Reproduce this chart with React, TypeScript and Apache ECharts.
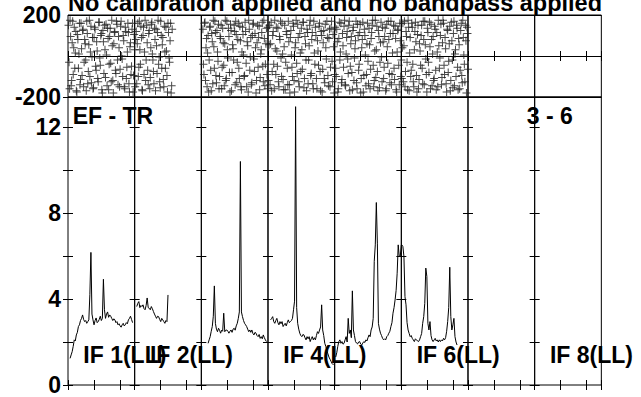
import React, { useEffect, useRef } from "react";
import * as echarts from "echarts";

// ---- data ----
const titleText = "No calibration applied and no bandpass applied";
const baselineLabel = "EF - TR";
const timeLabel = "3 - 6";
const ifLabels = ["IF 1(LL)", "IF 2(LL)", "IF 3(LL)", "IF 4(LL)", "IF 5(LL)", "IF 6(LL)", "IF 7(LL)", "IF 8(LL)"];
const shownIfLabels = [0, 1, 3, 5, 7];
const phaseTicks = [-200, 200];
const ampTickLabels = [0, 4, 8, 12];

// amplitude spectra (Jy), one value every 2 channels from the start channel
const ampStart = [4, 4, 13, 5, 2, 1];
const ampIF1 = [1.24, 1.4, 1.55, 1.8, 2.1, 2.05, 2.33, 2.45, 2.72, 2.8, 3.0, 3.1, 3.26, 3.05, 2.95, 3.0, 2.87, 2.95, 3.03, 4.2, 6.17, 3.3, 3.03, 2.8, 3.0, 3.12, 2.9, 2.95, 3.05, 3.2, 3.0, 3.1, 4.92, 3.5, 3.1, 3.3, 3.4, 3.15, 3.26, 3.2, 3.1, 3.0, 3.08, 3.03, 2.9, 2.95, 2.8, 2.85, 2.75, 2.69, 2.8, 2.87, 2.75, 2.8, 2.9, 2.85, 3.03, 3.1, 3.2, 3.05, 2.9];
const ampIF2 = [3.65, 3.8, 3.88, 3.6, 3.7, 3.65, 3.73, 3.55, 3.5, 3.7, 4.05, 3.6, 3.57, 3.5, 3.65, 3.55, 3.42, 3.3, 3.2, 3.1, 3.2, 3.18, 3.05, 2.95, 3.1, 3.03, 2.95, 2.87, 3.0, 2.95, 4.19];
const ampIF3 = [1.94, 2.1, 2.25, 2.5, 2.72, 3.2, 4.61, 2.87, 2.6, 2.48, 2.64, 2.55, 2.41, 2.55, 2.5, 3.34, 2.48, 2.55, 2.56, 2.5, 2.41, 2.5, 2.56, 2.45, 2.6, 2.64, 2.55, 2.75, 2.87, 3.1, 3.4, 10.4, 3.4, 3.18, 3.0, 2.87, 2.8, 2.72, 2.6, 2.48, 2.56, 2.45, 2.56, 2.4, 2.33, 2.45, 2.41, 2.3, 2.25, 2.35, 2.17, 2.25, 2.15, 2.33, 2.2, 2.1, 2.02];
const ampIF4 = [3.03, 3.1, 3.18, 2.95, 2.87, 3.0, 3.1, 2.9, 2.8, 2.95, 2.85, 2.95, 2.72, 2.8, 2.87, 2.75, 2.9, 3.03, 2.9, 2.95, 3.0, 3.1, 3.5, 3.9, 12.95, 3.6, 2.87, 2.6, 2.41, 2.3, 2.25, 2.35, 2.33, 2.2, 2.1, 2.25, 2.15, 2.25, 2.02, 2.15, 2.25, 2.1, 2.2, 2.1, 2.3, 2.48, 2.4, 2.56, 2.7, 3.73, 2.56, 2.3, 1.94, 1.8, 1.6, 1.45, 1.3, 1.2, 1.1, 1.0, 0.95, 1.0];
const ampIF5 = [1.3, 1.5, 1.8, 2.02, 2.1, 1.94, 2.02, 1.9, 1.94, 2.1, 2.25, 2.0, 3.1, 2.4, 2.56, 2.2, 4.38, 2.56, 2.3, 2.02, 1.95, 1.91, 2.0, 2.02, 1.9, 1.86, 1.95, 2.02, 1.98, 2.1, 2.05, 2.2, 2.33, 2.25, 2.56, 2.7, 3.1, 5.75, 6.52, 8.49, 6.6, 2.87, 2.6, 2.41, 2.3, 2.17, 2.1, 2.15, 2.1, 2.25, 2.3, 2.41, 2.5, 2.72, 2.9, 3.34, 3.6, 3.96, 4.4, 5.2, 6.52, 5.98, 6.0, 6.52];
const ampIF6 = [6.52, 6.44, 5.98, 4.11, 3.73, 2.9, 2.56, 2.4, 2.25, 2.3, 2.17, 2.1, 2.02, 2.15, 2.1, 2.05, 2.02, 2.1, 2.25, 2.4, 2.87, 3.18, 3.8, 5.44, 5.05, 2.87, 2.56, 2.95, 2.3, 2.1, 2.02, 2.1, 2.17, 2.05, 2.1, 2.0, 2.1, 2.02, 2.1, 2.05, 2.17, 2.1, 2.2, 2.5, 2.95, 3.6, 5.48, 3.18, 2.56, 2.8, 3.1, 2.25, 2.0, 1.86];
const ampSpectra = [ampIF1, ampIF2, ampIF3, ampIF4, ampIF5, ampIF6];

// phases (degrees): odd-channel list (A) and even-channel list (B) per IF
const phaseStartA = [1, 1, 3, 1, 1, 1];
const phaseStartB = [2, 2, 4, 2, 2, 2];
const phIF1a = [150, -160, 95, -120, 170, 40, -60, 120, -175, 80, 10, -140, 160, -95, 130, -30, 60, -170, 110, -75, 175, 20, -130, 90, -155, 140, -50, 70, -110, 165, -10, 100, -165, 125, -85, 30, 155, -145, 85, -40, 135, -125, 50, -180, 115, -70, 170, -20, 95, -150, 145, 0, -100, 75, -160, 120, -55, 160, -135, 45, -90, 130, -175, 105];
const phIF1b = [-30, 175, -145, 65, -90, 140, 15, -170, 105, -60, 160, -115, 35, 125, -150, 80, -20, 170, -135, 55, -100, 145, -5, -160, 90, 130, -70, 25, -125, 165, -45, 110, -180, 70, 150, -105, 5, 135, -165, 95, -35, 175, -120, 60, 120, -85, 155, -140, 40, -65, 170, -15, 100, -150, 140, -110, 20, 115, -175, 65, -50, 160, -95, 30];
const phIF2a = [-150, 120, 60, -100, 170, -40, 90, -170, 140, 20, -120, 150, -70, 110, -160, 40, 165, -20, -135, 80, 130, -85, 175, -5, -155, 100, 55, -115, 145, -60, 25, -175, 115, -30, 160, -145];
const phIF2b = [80, -135, 160, -55, 30, 145, -165, 100, -90, 175, -20, 65, -140, 125, -105, 155, 10, -75, 135, -170, 50, 115, -40, -125, 170, -60, 90, -150, 20, 140, -95, 160, -10, 75, -180, 130];
const phIF3a = [130, -90, 165, 40, -150, 100, -20, 145, -170, 70, 175, -60, 115, -130, 20, 155, -100, 85, -160, 135, -45, 60, -120, 170, -10, 95, -175, 125, -80, 35, 150, -140, 105, -30, 160, -110, 75, -165, 140, 5, -95, 120, -150, 50, 175, -70, 90, -130, 155, -15, 110, -180, 65, -55, 145, -105, 30, 165, -125, 85, -40, 135, -160];
const phIF3b = [-40, 160, -120, 85, 15, -175, 140, -70, 110, -135, 45, 170, -95, 125, -25, -160, 95, 150, -55, 65, -145, 175, -110, 30, 135, -80, 155, -170, 55, -20, 120, 170, -130, 80, -60, 145, -150, 20, 105, -100, 165, -35, 70, -175, 130, -5, -140, 100, 160, -75, 40, -120, 150, 90, -165, 10, 115, -50, 175, -145, 60, -90, 140];
const phIF4a = [-120, 150, 60, -170, 100, -40, 175, -90, 25, 135, -150, 80, -10, 160, -115, 45, -165, 120, -60, 170, -140, 90, 5, -100, 145, -175, 65, -35, 155, -125, 110, -75, 30, 165, -155, 95, -20, 130, -135, 50, 175, -85, 115, -160, 15, 140, -110, 75, -45, 160, -170, 100, -65, 125, -130, 40, 170, -95, 85, -150, 135, -25, 105, -180];
const phIF4b = [55, -140, 165, -75, 120, -160, 35, 140, -50, -125, 95, 170, -100, 10, -165, 150, -30, 105, -140, 70, -180, 125, -55, 160, -120, 40, 175, -85, 90, -150, 15, 135, -65, 165, -110, 60, -170, 115, -20, 150, -95, 80, -135, 170, -40, 100, -160, 25, 145, -75, 120, -175, 65, -110, 155, -15, 90, -145, 130, -55, 170, -125, 45, -90];
const phIF5a = [140, -100, 70, -160, 165, 20, -130, 110, -55, 175, -145, 90, -15, 150, -170, 60, -80, 125, -120, 35, 170, -160, 100, -40, 155, -110, 80, -175, 130, 5, -90, 160, -135, 55, -65, 115, 175, -150, 25, -105, 145, -170, 95, -30, 165, -125, 70, -55, 135, -160, 45, 170, -85, 110, -140, 15, 150, -115, 85, -175, 125, -45, 160, -100];
const phIF5b = [-60, 130, -175, 85, -20, 160, -115, 50, 145, -140, 10, 120, -85, 170, -50, 95, -165, 140, -10, 75, -130, 155, -70, 115, -180, 40, 165, -95, 100, -145, 60, -25, 135, -160, 85, 150, -45, -120, 175, 30, -75, 125, -155, 65, -5, 140, -110, 95, -170, 155, -35, 80, -130, 170, -90, 110, -60, 145, -165, 20, 130, -140, 75, -20];
const phIF6a = [-110, 160, 50, -150, 120, -30, 175, -170, 90, -70, 140, -125, 30, 165, -95, 105, -160, 60, -45, 150, -135, 80, 170, -15, -175, 115, -80, 45, 155, -145, 95, -110, 130, -165, 20, 175, -60, 100, -140, 65, 160, -90, 35, -175, 125, -25, 145, -120, 75, -155, 170, 10, -100, 135, -165, 55, -70, 160, -130, 90, -40, 150, -180, 110];
const phIF6b = [40, -125, 170, -75, 95, -165, 140, 15, -100, 160, -40, -150, 120, 70, -175, 150, -115, 25, 100, -60, 170, -140, 55, -90, 135, -30, 165, -160, 80, 10, -120, 145, -70, 115, -150, 50, -10, 155, -105, 175, -45, 90, -135, 130, -80, 60, -170, 165, -20, 110, -145, 30, 150, -55, 85, -160, 125, -95, 175, 5, -125, 75, 140, -65];
const phasesA = [phIF1a, phIF2a, phIF3a, phIF4a, phIF5a, phIF6a];
const phasesB = [phIF1b, phIF2b, phIF3b, phIF4b, phIF5b, phIF6b];

const nChan = 128;
const nIF = 8;

// ---- layout ----
const W = 641;
const H = 397;
const plotLeft = 68;
const panelW = (601.33 - 68) / nIF;
const phaseTop = 15;
const phaseH = 82;
const ampTop = 97;
const ampH = 288;
const FONT = "'Liberation Sans', Arial, Helvetica, sans-serif";

const plusPath = "path://M0,3.5 L8,3.5 L8,4.5 L0,4.5 Z M3.5,0 L4.5,0 L4.5,8 L3.5,8 Z";

function buildOption() {
  const grid: any[] = [];
  const xAxis: any[] = [];
  const yAxis: any[] = [];
  const series: any[] = [];
  const tick = { show: true, inside: true, length: 5, lineStyle: { color: "#000", width: 1 } };

  for (let g = 0; g < 2 * nIF; g++) {
    const isPhase = g < nIF;
    const i = g % nIF;
    grid.push({
      left: plotLeft + i * panelW,
      width: panelW,
      top: isPhase ? phaseTop : ampTop,
      height: isPhase ? phaseH : ampH,
      show: true,
      borderColor: "#000",
      borderWidth: 1,
      backgroundColor: "transparent",
      containLabel: false,
    });
    for (const pos of ["bottom", "top"]) {
      xAxis.push({
        gridIndex: g,
        type: "value",
        position: pos,
        min: 0,
        max: nChan,
        interval: 50,
        axisLine: { show: false },
        axisTick: tick,
        axisLabel: { show: false },
        splitLine: { show: false },
      });
    }
    for (const pos of ["left", "right"]) {
      const showLabel = i === 0 && pos === "left";
      yAxis.push({
        gridIndex: g,
        type: "value",
        position: pos,
        min: isPhase ? -200 : 0,
        max: isPhase ? 200 : 13.4,
        interval: isPhase ? 200 : 2,
        axisLine: { show: false },
        axisTick: isPhase ? { show: false } : tick,
        axisLabel: {
          show: showLabel,
          margin: 7,
          color: "#000",
          fontFamily: FONT,
          fontWeight: "bold",
          fontSize: 23,
          formatter: (v: number) => {
            if (isPhase) return phaseTicks.includes(v) ? String(v) : "";
            return ampTickLabels.includes(v) ? String(v) : "";
          },
        },
        splitLine: {
          show: isPhase && pos === "left",
          lineStyle: { color: "#000", width: 1 },
        },
      });
    }
  }

  [phasesA, phasesB].forEach((set, s) => {
    const starts = s === 0 ? phaseStartA : phaseStartB;
    set.forEach((vals, i) => {
      series.push({
        type: "scatter",
        xAxisIndex: 2 * i,
        yAxisIndex: 2 * i,
        symbol: plusPath,
        symbolSize: 8,
        itemStyle: { color: "#1a1a1a" },
        data: vals.map((v, k) => [starts[i] + 2 * k, v]),
      });
    });
  });

  ampSpectra.forEach((vals, i) => {
    const g = nIF + i;
    series.push({
      type: "line",
      xAxisIndex: 2 * g,
      yAxisIndex: 2 * g,
      symbol: "none",
      lineStyle: { color: "#000", width: 1 },
      data: vals.map((v, k) => [ampStart[i] + 2 * k, v]),
    });
  });

  const textStyle = (text: string, size = 23) => ({
    text,
    fill: "#000",
    font: `bold ${size}px ${FONT}`,
    verticalAlign: "middle",
    align: "left",
  });

  const graphic: any[] = [
    { type: "text", x: 68, y: 2.5, style: textStyle(titleText, 23.5), z: 100 },
    { type: "text", x: 72.7, y: 116, style: textStyle(baselineLabel), z: 100 },
    { type: "text", x: 526.7, y: 116, style: textStyle(timeLabel), z: 100 },
  ];
  shownIfLabels.forEach((i) => {
    graphic.push({
      type: "text",
      x: plotLeft + i * panelW + 15.3,
      y: 355.3,
      style: textStyle(ifLabels[i]),
      z: 100,
    });
  });

  return {
    animation: false,
    backgroundColor: "#fff",
    grid,
    xAxis,
    yAxis,
    series,
    graphic,
  };
}

export default function App() {
  const ref = useRef<HTMLDivElement>(null);
  useEffect(() => {
    if (!ref.current) return;
    const chart = echarts.init(ref.current, null, { renderer: "svg" });
    chart.setOption(buildOption());
    return () => chart.dispose();
  }, []);
  return (
    <div
      ref={ref}
      style={{ position: "fixed", left: 0, top: 0, width: W, height: H, background: "#fff" }}
    />
  );
}
